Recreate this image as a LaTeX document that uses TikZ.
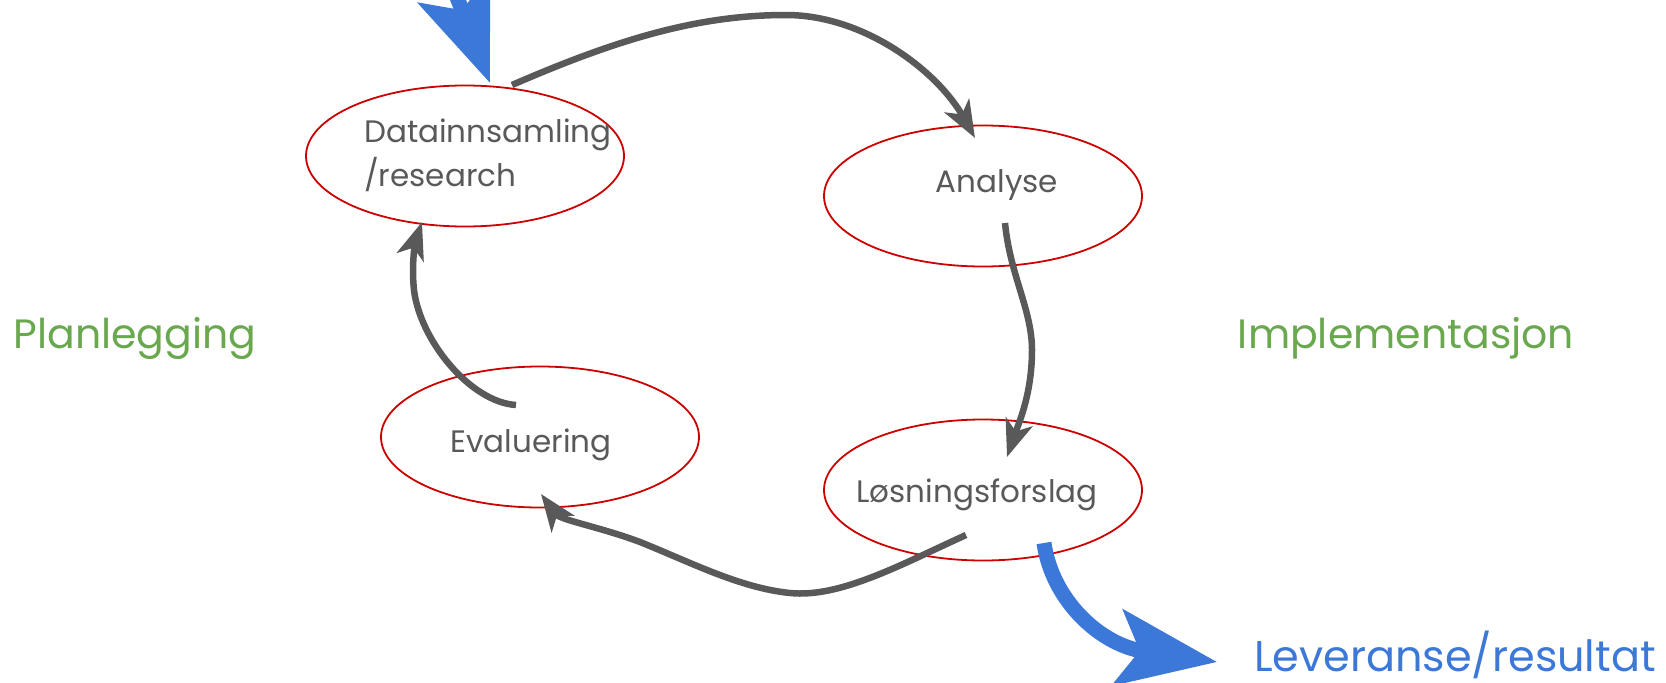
\documentclass[tikz,border=0pt]{standalone}
\usepackage{fontspec}
\setmainfont{Poppins}
\usetikzlibrary{arrows.meta,shapes.geometric,calc}
\definecolor{stagered}{HTML}{CC0000}
\definecolor{txtgray}{HTML}{595959}
\definecolor{flowgray}{HTML}{595959}
\definecolor{bigblue}{HTML}{3C78D8}
\definecolor{phasegreen}{HTML}{6AA84F}
\tikzset{
  stage/.style={ellipse, draw=stagered, line width=1.8pt,
    minimum width=318pt, minimum height=141pt, inner sep=0pt},
  stagetext/.style={inner sep=0pt, text=txtgray,
    font=\fontsize{31}{40}\selectfont},
  phase/.style={anchor=base, inner sep=0pt, text=phasegreen,
    font=\fontsize{41}{49}\selectfont},
  flow/.style={draw=flowgray, line width=6.5pt,
    -{Stealth[length=37pt,width=28pt,inset=10pt]}},
  bigflow/.style={draw=bigblue, line width=15pt,
    -{Stealth[length=100pt,width=76pt,inset=22pt]}}
}
\begin{document}
\begin{tikzpicture}[x=1pt,y=-1pt]
\useasboundingbox (0,0) rectangle (1666,683);
\clip (0,0) rectangle (1666,683);

% the four stages of the cycle
\node[stage] (dat) at (465,156) {};
\node[stage] (ana) at (983,196) {};
\node[stage] (eva) at (540,437) {};
\node[stage] (los) at (983,490) {};

\node[stagetext, anchor=base west] (dattop) at (364,142) {Datainnsamling};
\node[stagetext, anchor=base west] (datbot) at (364,186) {/research};
\node[stagetext, anchor=base] (anatxt) at (997,192) {Analyse};
\node[stagetext, anchor=base] (evatxt) at (531,452) {Evaluering};
\node[stagetext, anchor=base] (lostxt) at (977,502) {Løsningsforslag};

% phase labels
\node[phase] (plan) at (135,348) {Planlegging};
\node[phase] (impl) at (1406,348) {Implementasjon};
\node[phase, text=bigblue, font=\fontsize{43}{51}\selectfont] (lev) at (1455,671) {Leveranse/resultat};

% cycle connectors
\draw[flow] ($(dat)+(47,-71)$) .. controls (620,38) and (700,15) .. (786,15)
  .. controls (865,15) and (938,72) .. ($(ana)+(-8,-58)$);
\draw[flow] ($(ana)+(22,27)$) .. controls (1010,275) and (1032,310) .. (1032,350)
  .. controls (1032,395) and (1018,425) .. ($(los)+(24,-33)$);
\draw[flow] ($(los)+(-17,45)$) .. controls (900,565) and (840,598) .. (790,593)
  .. controls (740,588) and (690,562) .. (640,542)
  .. controls (600,527) and (560,520) .. ($(eva)+(1,57)$);
\draw[flow] ($(eva)+(-24,-32)$) .. controls (470,402) and (420,340) .. (414,290)
  .. controls (411,262) and (416,240) .. ($(dat)+(-43,66)$);

% entry and exit of the cycle
\coordinate (bluein) at (395,-170);
\coordinate (levtip) at (1217,662);
\draw[bigflow] (bluein) .. controls (435,-60) .. ($(dat)+(25,-73)$);
\draw[bigflow] ($(los)+(61,53)$) .. controls (1052,600) and (1100,645) .. (levtip);
\end{tikzpicture}
\end{document}
